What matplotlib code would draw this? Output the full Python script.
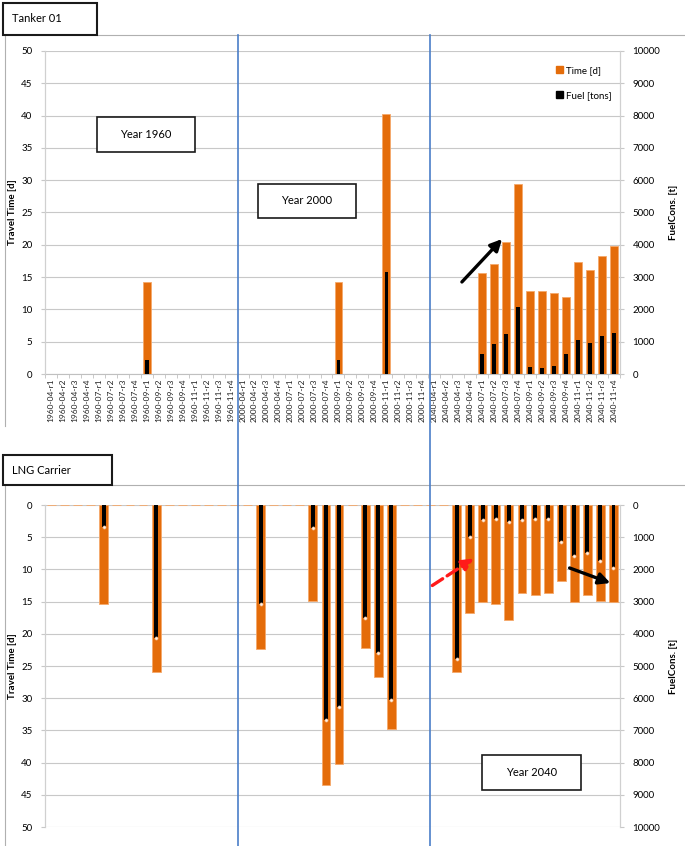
import matplotlib
matplotlib.use("Agg")
import matplotlib.pyplot as plt
import numpy as np
from matplotlib.patches import Rectangle, FancyArrowPatch, Patch
from matplotlib.lines import Line2D

plt.rcParams['font.family'] = ['Lato', 'DejaVu Sans']

# --- DATA ---
years = ['1960', '2000', '2040']
months = ['04', '07', '09', '11']
runs = ['r1', 'r2', 'r3', 'r4']
tanker_labels = [f"{y}-{m}-{r}" for y in years for m in months for r in runs]

# Tanker 01: travel time [d] and fuel consumption [tons]
tanker_time = [0, 0, 0, 0, 0, 0, 0, 0, 14.3, 0, 0, 0, 0, 0, 0, 0,
               0, 0, 0, 0, 0, 0, 0, 0, 14.2, 0, 0, 0, 40.2, 0, 0, 0,
               0, 0, 0, 0, 15.7, 17.0, 20.4, 29.4, 12.8, 12.8, 12.6, 11.9,
               17.3, 16.1, 18.3, 19.8]
tanker_fuel = [0, 0, 0, 0, 0, 0, 0, 0, 430, 0, 0, 0, 0, 0, 0, 0,
               0, 0, 0, 0, 0, 0, 0, 0, 430, 0, 0, 0, 3160, 0, 0, 0,
               0, 0, 0, 0, 620, 930, 1250, 2080, 210, 190, 250, 610,
               1050, 970, 1180, 1280]

# LNG Carrier: 44 slots, no tick labels in the picture
lng_time = [0, 0, 0, 0, 15.3, 0, 0, 0, 26.0, 0, 0, 0, 0, 0, 0, 0,
            22.4, 0, 0, 0, 14.9, 43.5, 40.2, 0, 22.2, 26.7, 34.8, 0, 0, 0, 0,
            26.0, 16.7, 15.0, 15.4, 17.9, 13.7, 13.9, 13.7, 11.8, 15.1, 13.95,
            14.9, 15.1]
lng_fuel = [0, 0, 0, 0, 680, 0, 0, 0, 4140, 0, 0, 0, 0, 0, 0, 0,
            3060, 0, 0, 0, 710, 6680, 6260, 0, 3500, 4610, 6060, 0, 0, 0, 0,
            4790, 990, 470, 450, 530, 470, 450, 450, 1150, 1590, 1480,
            1750, 1970]

ORANGE = '#E46C0A'
EDGE = '#F5A86A'
BLUE = '#4A7EC8'
W, H = 685, 846


def fx(x):
    return x / W


def fy(y):
    return 1 - y / H


def style_axes(ax, ax2, fuel_label):
    ax.set_ylim(0, 50)
    ax.set_yticks(np.arange(0, 51, 5))
    ax2.set_ylim(0, 10000)
    ax2.set_yticks(np.arange(0, 10001, 1000))
    ax.grid(axis='y', color='#c8c8c8', linewidth=0.8)
    ax.set_axisbelow(True)
    for a in (ax, ax2):
        for s in ('top', 'bottom'):
            a.spines[s].set_visible(False)
        a.spines['left'].set_color('#d0d0d0')
        a.spines['right'].set_color('#d0d0d0')
        a.tick_params(axis='y', labelsize=7, length=3, color='#c8c8c8', pad=6)
    ax.set_ylabel('Travel Time [d]', fontsize=7, fontweight='bold', labelpad=3)
    ax2.set_ylabel(fuel_label, fontsize=7, fontweight='bold', labelpad=6)


fig = plt.figure(figsize=(6.85, 8.46), dpi=100)

# --- TOP: Tanker 01 ---
ax1 = fig.add_axes([fx(45), fy(374), fx(620) - fx(45), (374 - 51) / H])
ax1b = ax1.twinx()
x1 = np.arange(len(tanker_labels))
ax1.bar(x1, tanker_time, width=0.66, color=ORANGE, edgecolor=EDGE, linewidth=0.6)
ax1b.bar(x1, tanker_fuel, width=0.3, color='black')
ax1.set_xlim(-0.5, len(tanker_labels) - 0.5)
style_axes(ax1, ax1b, 'FuelCons. [t]')
ax1.set_xticks(x1)
ax1.set_xticklabels(tanker_labels, rotation=90, fontsize=6, color='#222222')
ax1.set_xticks(np.arange(-0.5, len(tanker_labels)), minor=True)
ax1.tick_params(axis='x', which='major', length=0, pad=3)
ax1.tick_params(axis='x', which='minor', length=3, color='#c0c0c0')
ax1.spines['bottom'].set_visible(True)
ax1.spines['bottom'].set_color('#c0c0c0')

handles = [Patch(color=ORANGE), Patch(color='black')]
ax1.legend(handles, ['Time [d]', 'Fuel [tons]'], loc='upper right',
           bbox_to_anchor=(1.0, 0.98), frameon=False, fontsize=7,
           handlelength=0.7, handleheight=0.7, labelspacing=1.6,
           handletextpad=0.3)

# --- BOTTOM: LNG Carrier ---
ax2 = fig.add_axes([fx(45), fy(827), fx(620) - fx(45), (827 - 505) / H])
ax2b = ax2.twinx()
x2 = np.arange(len(lng_time))
ax2.bar(x2, lng_time, width=0.68, color=ORANGE, edgecolor=EDGE, linewidth=0.6)
ax2b.bar(x2, lng_fuel, width=0.3, color='black')
fuel_arr = np.array(lng_fuel)
mask = fuel_arr > 0
ax2b.scatter(x2[mask], fuel_arr[mask], s=5, color='#fff4ea', edgecolors='#f2b98a',
             linewidths=0.5, zorder=5)
ax2.set_xlim(-0.5, len(lng_time) - 0.5)
style_axes(ax2, ax2b, 'FuelCons. [t]')
ax2.invert_yaxis()
ax2b.invert_yaxis()
ax2.set_xticks([])

# --- FRAMES, BOXES, ANNOTATIONS (figure coordinates) ---
def fline(xs, ys, **kw):
    fig.add_artist(Line2D([fx(v) for v in xs], [fy(v) for v in ys],
                          transform=fig.transFigure, **kw))


fline([5, 5], [35, 426], color='#b0b0b0', linewidth=0.8)
fline([97, 685], [35, 35], color='#b0b0b0', linewidth=0.8)
fline([5, 5], [485, 846], color='#b0b0b0', linewidth=0.8)
fline([112, 685], [485, 485], color='#b0b0b0', linewidth=0.8)
fline([238, 238], [35, 846], color=BLUE, linewidth=1.2)
fline([430, 430], [35, 846], color=BLUE, linewidth=1.2)


def fbox(x0, y0, x1, y1, text, lw=1.2, tx=None):
    fig.add_artist(Rectangle((fx(x0), fy(y1)), fx(x1) - fx(x0), (y1 - y0) / H,
                             transform=fig.transFigure, facecolor='white',
                             edgecolor='#1a1a1a', linewidth=lw, zorder=10))
    xt = fx((x0 + x1) / 2) if tx is None else fx(tx)
    ha = 'center' if tx is None else 'left'
    fig.text(xt, fy((y0 + y1) / 2), text, ha=ha, va='center', fontsize=8,
             zorder=11)


fbox(3, 3, 97, 35, 'Tanker 01', lw=1.5, tx=12)
fbox(3, 455, 112, 485, 'LNG Carrier', lw=1.5, tx=12)
fbox(97, 117, 195, 152, 'Year 1960')
fbox(258, 184, 356, 218, 'Year 2000')
fbox(482, 755, 581, 790, 'Year 2040')


def farrow(p0, p1, color, ls='-'):
    fig.add_artist(FancyArrowPatch((fx(p0[0]), fy(p0[1])), (fx(p1[0]), fy(p1[1])),
                                   transform=fig.transFigure, arrowstyle='-|>',
                                   mutation_scale=17, color=color, linewidth=2.4,
                                   linestyle=ls, zorder=12))


farrow((460, 284), (504, 237), 'black')
farrow((430, 587), (476, 557), '#ff1a1a', ls='--')
farrow((567, 567), (613, 584), 'black')

plt.savefig('out.png', dpi=100)
